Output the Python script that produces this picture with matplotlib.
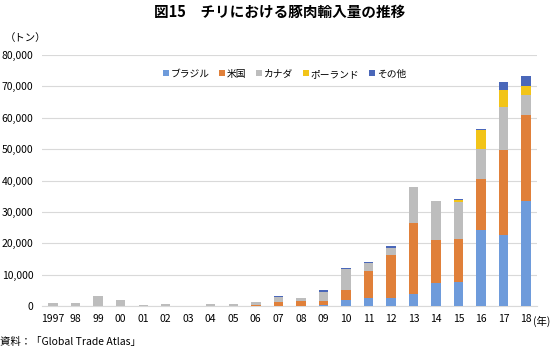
import numpy as np
import matplotlib.pyplot as plt

plt.rcParams['font.family'] = ['Noto Sans CJK JP', 'DejaVu Sans']

# データ（トン）
years = ['1997', '98', '99', '00', '01', '02', '03', '04', '05', '06', '07',
         '08', '09', '10', '11', '12', '13', '14', '15', '16', '17', '18']
brazil = [0, 0, 0, 0, 0, 0, 0, 0, 0, 0, 0,
          0, 200, 1900, 2700, 2500, 3700, 7200, 7700, 24300, 22700, 33500]
usa = [0, 0, 0, 0, 0, 0, 0, 0, 0, 400, 1400,
       1600, 1300, 3200, 8300, 13600, 22800, 13900, 13500, 16100, 27000, 27500]
canada = [1000, 1000, 3300, 1800, 300, 500, 100, 600, 700, 800, 1500,
          800, 3000, 6700, 2700, 2500, 11300, 12300, 11800, 9500, 13700, 6100]
poland = [0, 0, 0, 0, 0, 0, 0, 0, 0, 0, 0,
          0, 0, 0, 0, 0, 0, 0, 750, 6100, 5300, 2900]
other = [0, 100, 0, 0, 0, 0, 0, 0, 0, 200, 200,
         300, 500, 200, 400, 400, 200, 0, 450, 400, 2700, 3300]

series = [('ブラジル', brazil, '#6E9BDB'),
          ('米国', usa, '#E0803A'),
          ('カナダ', canada, '#BDBDBD'),
          ('ポーランド', poland, '#F2C418'),
          ('その他', other, '#4A67B9')]

fig = plt.figure(figsize=(5.59, 3.5), dpi=100)
ax = fig.add_axes([0.075, 0.1257, 0.886, 0.7171])

x = np.arange(len(years))
bottom = np.zeros(len(years))
for name, vals, col in series:
    vals = np.array(vals, dtype=float)
    ax.bar(x, vals, width=0.42, bottom=bottom, color=col, label=name, zorder=3)
    bottom += vals

ax.set_xlim(-0.5, len(years) - 0.5)
ax.set_ylim(0, 80000)
ax.set_yticks(np.arange(0, 80001, 10000))
ax.set_yticklabels([f'{v:,}' for v in range(0, 80001, 10000)], fontsize=7.5)
ax.set_xticks(x)
ax.set_xticklabels(years, fontsize=7.5)
ax.tick_params(length=0, pad=6)
ax.grid(axis='y', color='#D9D9D9', linewidth=0.8, zorder=0)
for s in ['top', 'right', 'left']:
    ax.spines[s].set_visible(False)
ax.spines['bottom'].set_color('#D9D9D9')

ax.legend(loc='upper center', bbox_to_anchor=(0.49, 0.98), ncol=5,
          frameon=False, fontsize=7, handlelength=0.6, handleheight=0.6,
          handletextpad=0.2, columnspacing=1.0)

fig.text(0.5, 0.965, '図15　チリにおける豚肉輸入量の推移', ha='center', va='center',
         fontsize=10.5, fontweight='bold')
fig.text(0.008, 0.89, '（トン）', ha='left', va='center', fontsize=7.5)
fig.text(0.954, 0.083, '(年)', ha='left', va='center', fontsize=7.5)
fig.text(0.0, 0.022, '資料：「Global Trade Atlas」', ha='left', va='center', fontsize=7.5)

fig.savefig('out.png', dpi=100)
